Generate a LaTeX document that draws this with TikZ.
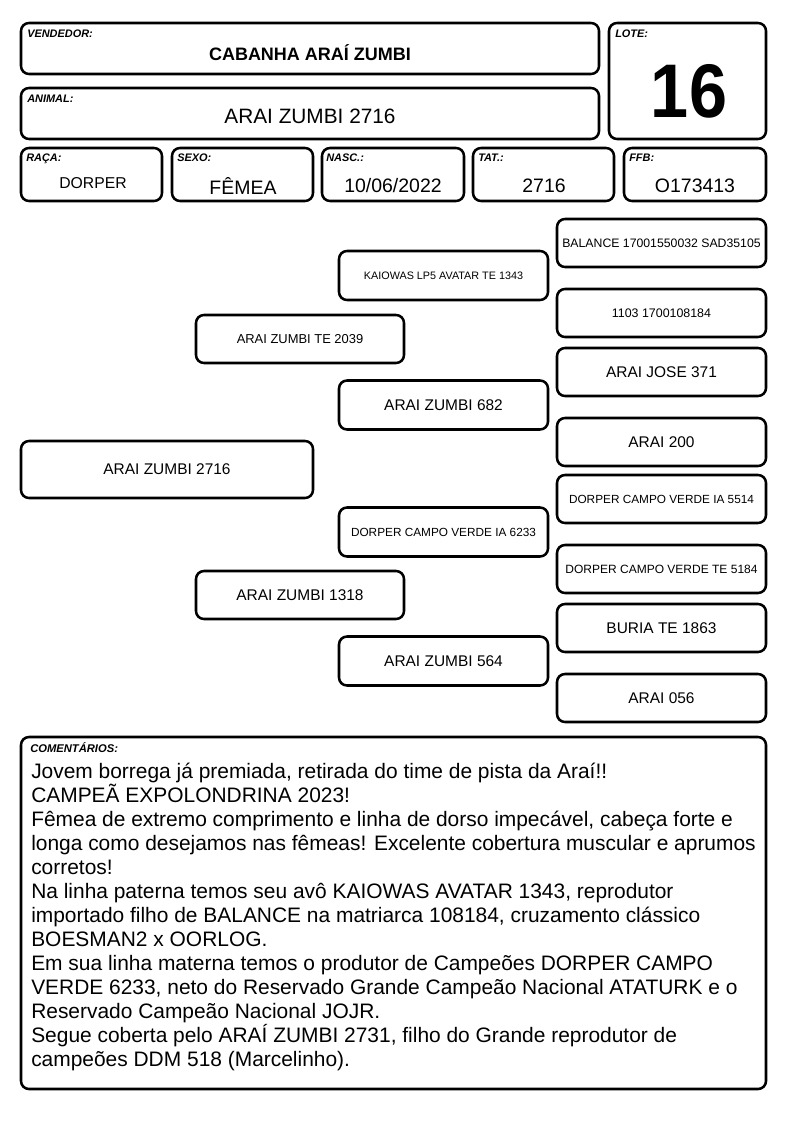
\documentclass[tikz,border=0pt]{standalone}
\usepackage{fontspec}
\setmainfont{Liberation Sans}
\begin{document}
\begin{tikzpicture}[x=0.75pt,y=-0.75pt,
  box/.style 2 args={draw=black,line width=1.9pt,rounded corners=6pt,inner sep=0pt,
     minimum width=#1*0.75pt,minimum height=#2*0.75pt,align=center},
  lbl/.style={anchor=base west,inner sep=0pt,font=\fontsize{8.2}{9}\selectfont\bfseries\itshape},
  val/.style={inner sep=0pt,font=\fontsize{14.6}{16}\selectfont},
  big/.style={font=\fontsize{11.6}{13}\selectfont},
  small/.style={font=\fontsize{9}{10}\selectfont}]
\useasboundingbox (0,0) rectangle (794,1123);
% header
\node[box={578}{51}] (vend) at (310,48.5) {};
\node[lbl] (vendl) at (27,38) {VENDEDOR:};
\node[inner sep=0pt,font=\fontsize{13.5}{15}\selectfont\bfseries] (vendv) at (310,53) {CABANHA ARAÍ ZUMBI};
\node[box={578}{51}] (anim) at (310,113.5) {};
\node[lbl] (animl) at (27,103) {ANIMAL:};
\node[inner sep=0pt,font=\fontsize{15.6}{17}\selectfont] (animv) at (310,116) {ARAI ZUMBI 2716};
\node[box={157}{116}] (lote) at (687.5,81) {};
\node[lbl] (lotel) at (615,38) {LOTE:};
\node[inner sep=0pt,font=\fontsize{57}{60}\selectfont\bfseries,xscale=0.9,transform shape] (lotev) at (689,91) {16};
% info row
\node[box={141}{53}] (raca) at (91.5,174.5) {};
\node[lbl] (racal) at (26,162) {RAÇA:};
\node[val,font=\fontsize{11.8}{13}\selectfont] (racav) at (93,183) {DORPER};
\node[box={141}{53}] (sexo) at (242.5,174.5) {};
\node[lbl] (sexol) at (177,162) {SEXO:};
\node[val] (sexov) at (243,186) {FÊMEA};
\node[box={142}{53}] (nasc) at (393,174.5) {};
\node[lbl] (nascl) at (326,162) {NASC.:};
\node[val] (nascv) at (393,186) {10/06/2022};
\node[box={141}{53}] (tat) at (543.5,174.5) {};
\node[lbl] (tatl) at (478,162) {TAT.:};
\node[val] (tatv) at (544,186) {2716};
\node[box={142}{53}] (ffb) at (695,174.5) {};
\node[lbl] (ffbl) at (629,162) {FFB:};
\node[val] (ffbv) at (695,186) {O173413};
% pedigree
\node[box={292}{57},big] (g1) at (167,469.5) {ARAI ZUMBI 2716};
\node[box={208}{48},small,font=\fontsize{9.7}{11}\selectfont] (g2a) at (300,339) {ARAI ZUMBI TE 2039};
\node[box={208}{48},big] (g2b) at (300,595) {ARAI ZUMBI 1318};
\node[box={209}{49},small,font=\fontsize{8.1}{10}\selectfont] (g3a) at (443.5,275.5) {KAIOWAS LP5 AVATAR TE 1343};
\node[box={209}{49},big] (g3b) at (443.5,405) {ARAI ZUMBI 682};
\node[box={209}{49},small,font=\fontsize{8.85}{10}\selectfont] (g3c) at (443.5,532) {DORPER CAMPO VERDE IA 6233};
\node[box={209}{49},big] (g3d) at (443.5,661) {ARAI ZUMBI 564};
\node[box={209}{48},small,font=\fontsize{9.2}{10}\selectfont] (g4a) at (661.5,243) {BALANCE 17001550032 SAD35105};
\node[box={209}{48},small,font=\fontsize{9.3}{10}\selectfont] (g4b) at (661.5,313) {1103 1700108184};
\node[box={209}{48},big] (g4c) at (661.5,372) {ARAI JOSE 371};
\node[box={209}{48},big] (g4d) at (661.5,442) {ARAI 200};
\node[box={209}{48},small,font=\fontsize{8.85}{10}\selectfont] (g4e) at (661.5,499) {DORPER CAMPO VERDE IA 5514};
\node[box={209}{48},small] (g4f) at (661.5,569) {DORPER CAMPO VERDE TE 5184};
\node[box={209}{48},big] (g4g) at (661.5,628) {BURIA TE 1863};
\node[box={209}{48},big] (g4h) at (661.5,698) {ARAI 056};
% comments
\node[box={745}{352}] (com) at (393.5,913) {};
\node[lbl,font=\fontsize{8.4}{9}\selectfont\bfseries\itshape] (coml) at (30,752) {COMENTÁRIOS:};
\node[anchor=north west,inner sep=0pt,align=left,font=\fontsize{15.7}{18}\selectfont] (comt) at (31,763) {Jovem borrega já premiada, retirada do time de pista da Araí!!\\
CAMPEÃ EXPOLONDRINA 2023!\\
Fêmea de extremo comprimento e linha de dorso impecável, cabeça forte e\\
longa como desejamos nas fêmeas! Excelente cobertura muscular e aprumos\\
corretos!\\
Na linha paterna temos seu avô KAIOWAS AVATAR 1343, reprodutor\\
importado filho de BALANCE na matriarca 108184, cruzamento clássico\\
BOESMAN2 x OORLOG.\\
Em sua linha materna temos o produtor de Campeões DORPER CAMPO\\
VERDE 6233, neto do Reservado Grande Campeão Nacional ATATURK e o\\
Reservado Campeão Nacional JOJR.\\
Segue coberta pelo ARAÍ ZUMBI 2731, filho do Grande reprodutor de\\
campeões DDM 518 (Marcelinho).};
\end{tikzpicture}
\end{document}
